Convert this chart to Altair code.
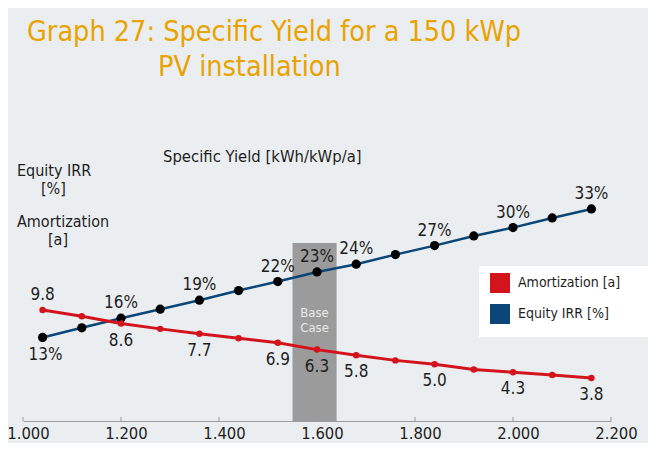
import altair as alt
import pandas as pd

# ---------------- data ----------------
yield_kwh = [1040, 1120, 1200, 1280, 1360, 1440, 1520, 1600, 1680, 1760, 1840, 1920, 2000, 2080, 2160]
equity_irr = [13.0, 14.5, 16.0, 17.4, 18.8, 20.3, 21.7, 23.2, 24.4, 25.9, 27.3, 28.8, 30.1, 31.6, 33.0]
amortization = [9.8, 9.25, 8.6, 8.13, 7.7, 7.3, 6.9, 6.3, 5.8, 5.35, 5.0, 4.55, 4.3, 4.05, 3.8]
irr_labels = ["13%", "", "16%", "", "19%", "", "22%", "23%", "24%", "", "27%", "", "30%", "", "33%"]
amort_labels = ["9.8", "", "8.6", "", "7.7", "", "6.9", "6.3", "5.8", "", "5.0", "", "4.3", "", "3.8"]
irr_label_pos = ["below"] + ["above"] * 14
amort_label_pos = ["above"] + ["below"] * 14
x_ticks = [1000, 1200, 1400, 1600, 1800, 2000, 2200]
base_case_from = [1550]
base_case_to = [1640]
base_case_top = [27.7]          # on the Equity IRR scale
series_names = ["Amortization [a]", "Equity IRR [%]"]

# ---------------- styling ----------------
W, H = 588, 257
FONT = "Liberation Sans Narrow, DejaVu Sans Condensed, sans-serif"
RED = "#D3141C"
BLUE = "#0A4678"
ORANGE = "#E9A300"
BG = "#EBEEF1"
TXT = "#1E1E1E"

df = pd.DataFrame({
    "x": yield_kwh,
    "irr": equity_irr,
    "amort": amortization,
    "irr_label": irr_labels,
    "amort_label": amort_labels,
    "irr_pos": irr_label_pos,
    "amort_pos": amort_label_pos,
})

x_axis = alt.Axis(values=x_ticks, labelExpr="replace(format(datum.value, ','), ',', '.')",
                  ticks=False, grid=False, title=None, domainColor="#9C9C9C", domainWidth=1,
                  labelFont=FONT, labelFontSize=16.5, labelColor=TXT, labelPadding=4, labelOffset=5,
                  labelFlush=False, labelOverlap=False, labelBound=False)
x_scale = alt.Scale(domain=[1000, 2200], nice=False, zero=False)


def X(field="x"):
    return alt.X(f"{field}:Q", scale=x_scale, axis=x_axis)


irr_scale = alt.Scale(domain=[0, 40], nice=False, zero=True)
amort_scale = alt.Scale(domain=[0, 22.68], nice=False, zero=True)
Y_IRR = alt.Y("irr:Q", scale=irr_scale, axis=None)
Y_AM = alt.Y("amort:Q", scale=amort_scale, axis=None)

# base case band
rect_df = pd.DataFrame({"x": base_case_from, "x2": base_case_to, "top": base_case_top})
base_rect = alt.Chart(rect_df).mark_rect(color="#9B9B9B").encode(
    x=X(), x2="x2:Q",
    y=alt.Y("top:Q", scale=irr_scale, axis=None), y2=alt.datum(0))
base_text = alt.Chart(pd.DataFrame({"x": [(base_case_from[0] + base_case_to[0]) / 2], "t": ["Base\nCase"]})).mark_text(
    font=FONT, fontSize=13, color="#E9E9E9", lineBreak="\n", lineHeight=15, baseline="middle", align="center"
).encode(x=X(), y=alt.value(149), text="t:N")

# upward tick marks
tick_rules = alt.Chart(pd.DataFrame({"x": x_ticks})).mark_rule(color="#9C9C9C", strokeWidth=1).encode(
    x=X(), y=alt.value(H - 4), y2=alt.value(H))

base = alt.Chart(df)
irr_line = base.mark_line(color=BLUE, strokeWidth=2.5).encode(x=X(), y=Y_IRR)
am_line = base.mark_line(color=RED, strokeWidth=3).encode(x=X(), y=Y_AM)
irr_pts = base.mark_circle(size=85, color="black", opacity=1).encode(x=X(), y=Y_IRR)
am_pts = base.mark_circle(size=42, color=RED, opacity=1).encode(x=X(), y=Y_AM)

lab_kw = dict(font=FONT, fontSize=17, color=TXT, align="center", baseline="middle")
irr_above = base.transform_filter("datum.irr_label != '' && datum.irr_pos == 'above'").mark_text(dy=-15, **lab_kw).encode(
    x=X(), y=Y_IRR, text="irr_label:N")
irr_below = base.transform_filter("datum.irr_label != '' && datum.irr_pos == 'below'").mark_text(dy=18, dx=3, **lab_kw).encode(
    x=X(), y=Y_IRR, text="irr_label:N")
am_above = base.transform_filter("datum.amort_label != '' && datum.amort_pos == 'above'").mark_text(dy=-15, **lab_kw).encode(
    x=X(), y=Y_AM, text="amort_label:N")
am_below = base.transform_filter("datum.amort_label != '' && datum.amort_pos == 'below'").mark_text(dy=17, **lab_kw).encode(
    x=X(), y=Y_AM, text="amort_label:N")

# legend box + legend
legend_box = alt.Chart(pd.DataFrame({"a": [0]})).mark_rect(color="white").encode(
    x=alt.value(456), x2=alt.value(625), y=alt.value(102), y2=alt.value(173))
legend_layer = alt.Chart(pd.DataFrame({"series": series_names})).mark_square(opacity=0, size=400).encode(
    x=alt.value(0), y=alt.value(0),
    color=alt.Color("series:N", scale=alt.Scale(domain=series_names, range=[RED, BLUE]),
                    legend=alt.Legend(title=None, orient="none", legendX=467, legendY=109,
                                      symbolType="square", symbolSize=400, symbolOpacity=1,
                                      symbolStrokeWidth=0, labelFont=FONT, labelFontSize=14,
                                      labelColor=TXT, labelOffset=8, rowPadding=11, padding=0)))


def note(text, x, y, size, color=TXT, align="left"):
    return alt.Chart(pd.DataFrame({"t": [text]})).mark_text(
        font=FONT, fontSize=size, color=color, align=align, baseline="alphabetic"
    ).encode(x=alt.value(x), y=alt.value(y), text="t:N")


notes = [
    note("Graph 27: Specific Yield for a 150 kWp", 4, -123.5, 28.5, ORANGE),
    note("PV installation", 135, -88, 28.5, ORANGE),
    note("Specific Yield [kWh/kWp/a]", 140, -2.5, 16.5),
    note("Equity IRR", -6, 12, 16),
    note("[%]", 18, 30, 16),
    note("Amortization", -6, 63, 16),
    note("[a]", 25, 80.5, 16),
]

chart = alt.layer(
    base_rect, base_text, tick_rules,
    irr_line, am_line, irr_pts, am_pts,
    irr_above, irr_below, am_above, am_below,
    legend_box, legend_layer, *notes
).resolve_scale(y="independent").properties(
    width=W, height=H,
    autosize=alt.AutoSizeParams(type="none"),
    padding={"left": 15, "top": 156, "right": 37, "bottom": 22},
    background=BG,
).configure_view(stroke=None)

chart.save("out.html", embed_options={"renderer": "svg", "actions": False})
